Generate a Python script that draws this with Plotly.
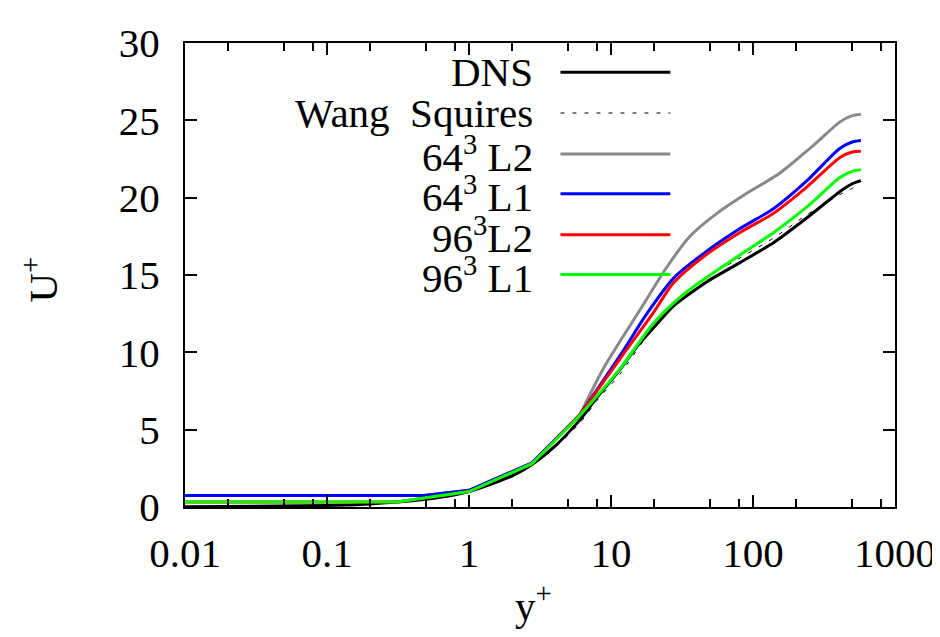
import plotly.graph_objects as go

# ---------------- data (y+, U+) ----------------
dns_y = [0.01, 0.1, 0.2, 0.4, 0.7, 1.0, 2.0, 2.78, 4.0, 6.0, 8.0, 11.6, 15, 20, 27.6, 48, 81, 140, 240, 410, 500, 575]
dns_u = [0.01, 0.1, 0.2, 0.4, 0.7, 1.0, 2.0, 2.75, 3.9, 5.6, 7.1, 8.9, 10.3, 11.6, 13.0, 14.6, 15.8, 17.1, 18.7, 20.4, 20.9, 21.1]

ws_y = [0.01, 0.1, 0.2, 0.4, 0.7, 1.0, 2.0, 2.78, 4.0, 6.0, 8.0, 11.6, 18, 27.6, 48, 81, 140, 240, 410, 500, 575]
ws_u = [0.01, 0.1, 0.2, 0.4, 0.7, 1.0, 2.0, 2.7, 3.8, 5.4, 6.9, 8.6, 11.1, 13.2, 14.9, 16.1, 17.4, 18.9, 20.2, 20.6, 20.8]

g64l2_y = [0.01, 0.48, 1.0, 2.78, 6.08, 8.9, 15.9, 24.7, 36, 56, 91, 155, 268, 410, 500, 575]
g64l2_u = [0.75, 0.75, 1.08, 2.85, 6.0, 9.0, 12.7, 15.5, 17.5, 19.0, 20.3, 21.6, 23.4, 24.9, 25.3, 25.4]

g64l1_y = [0.01, 0.48, 1.0, 2.78, 6.08, 11.6, 17.9, 27.6, 45, 81, 140, 240, 410, 500, 575]
g64l1_u = [0.75, 0.75, 1.08, 2.85, 6.0, 9.8, 12.5, 14.8, 16.4, 18.0, 19.3, 21.1, 23.2, 23.6, 23.7]

g96l2_y = [0.01, 0.31, 1.0, 2.78, 6.08, 11.6, 20, 27.6, 45, 81, 140, 240, 410, 500, 575]
g96l2_u = [0.33, 0.33, 1.0, 2.8, 6.0, 9.6, 12.6, 14.5, 16.2, 17.75, 19.0, 20.7, 22.6, 22.95, 23.0]

g96l1_y = [0.01, 0.31, 1.0, 2.78, 6.08, 11.6, 20, 34, 81, 140, 240, 410, 500, 575]
g96l1_u = [0.33, 0.33, 1.0, 2.8, 5.95, 8.95, 11.9, 13.9, 16.3, 17.75, 19.4, 21.3, 21.7, 21.8]

legend_labels = ["DNS", "Wang&nbsp; Squires", "64<sup>3</sup> L2", "64<sup>3</sup> L1",
                 "96<sup>3</sup>L2", "96<sup>3</sup> L1"]

x_tickvals = [0.01, 0.1, 1, 10, 100, 1000]
x_ticktext = ["0.01", "0.1", "1", "10", "100", "1000"]
x_minor = [m * 10.0 ** e for e in range(-2, 3) for m in (2, 5, 8)]
y_tickvals = [0, 5, 10, 15, 20, 25, 30]

WALL_SPLIT = 6.08   # LES near-wall points joined by straight segments, outer part smooth

FONT = "Liberation Serif, Times New Roman, serif"
FS = 41

series = [
    (dns_y, dns_u, dict(color="black", width=3), False),
    (ws_y, ws_u, dict(color="black", width=1, dash="4px,8px"), False),
    (g64l2_y, g64l2_u, dict(color="#888888", width=3), True),
    (g64l1_y, g64l1_u, dict(color="#0000ff", width=3), True),
    (g96l2_y, g96l2_u, dict(color="#ff0000", width=3), True),
    (g96l1_y, g96l1_u, dict(color="#00ff00", width=3), True),
]

fig = go.Figure()
for (xs, ys, ln, split), name in zip(series, legend_labels):
    if split:
        i = xs.index(WALL_SPLIT)
        fig.add_trace(go.Scatter(x=xs[:i + 1], y=ys[:i + 1], mode="lines",
                                 line=dict(ln, shape="linear"), name=name, showlegend=False))
        fig.add_trace(go.Scatter(x=xs[i:], y=ys[i:], mode="lines",
                                 line=dict(ln, shape="spline", smoothing=0.8), name=name, showlegend=False))
    else:
        fig.add_trace(go.Scatter(x=xs, y=ys, mode="lines",
                                 line=dict(ln, shape="spline", smoothing=0.6), name=name, showlegend=False))

# gnuplot-style key: text right-aligned, sample to the right
L, R, T, B = 177, 52, 22, 138
W, H = 940, 637
pw, ph = W - L - R, H - T - B
key_y_px = [52, 94, 136, 177, 219, 260]
text_right_px = 527
samp_x0, samp_x1 = 553, 663
for (xs, ys, ln, split), name, ypx in zip(series, legend_labels, key_y_px):
    yp = (H - B - ypx) / ph
    fig.add_annotation(x=(text_right_px - L) / pw, y=yp, xref="paper", yref="paper",
                       text=name, showarrow=False, xanchor="right", yanchor="middle",
                       font=dict(family=FONT, size=FS, color="black"))
    fig.add_shape(type="line", xref="paper", yref="paper",
                  x0=(samp_x0 - L) / pw, x1=(samp_x1 - L) / pw, y0=yp, y1=yp,
                  line=ln)

# axis titles
fig.add_annotation(x=(526 - L) / pw, y=(H - B - 598) / ph, xref="paper", yref="paper", text="y<sup>+</sup>",
                   showarrow=False, xanchor="center", yanchor="middle",
                   font=dict(family=FONT, size=FS, color="black"))
fig.add_annotation(x=(32 - L) / pw, y=(H - B - 265) / ph, xref="paper", yref="paper", text="U<sup>+</sup>",
                   showarrow=False, xanchor="center", yanchor="middle", textangle=-90,
                   font=dict(family=FONT, size=FS, color="black"))

axis_common = dict(showline=True, linewidth=2, linecolor="black", mirror="allticks",
                   ticks="inside", ticklen=12, tickwidth=1.5, tickcolor="black",
                   showgrid=False, zeroline=False, ticklabeloverflow="allow",
                   tickfont=dict(family=FONT, size=FS, color="black"))

fig.update_xaxes(type="log", range=[-2, 3], tickvals=x_tickvals, ticktext=x_ticktext,
                 ticklabelstandoff=9,
                 minor=dict(tickvals=x_minor, ticks="inside", ticklen=8, tickwidth=1.5,
                            tickcolor="black", showgrid=False),
                 **axis_common)
fig.update_yaxes(range=[0, 30], tickvals=y_tickvals, ticklabelstandoff=15, **axis_common)

fig.update_layout(width=W, height=H, autosize=False,
                  margin=dict(l=L, r=R, t=T, b=B),
                  font=dict(family=FONT, size=FS, color="black"),
                  plot_bgcolor="white", paper_bgcolor="white",
                  showlegend=False)

fig.write_html("out.html")
